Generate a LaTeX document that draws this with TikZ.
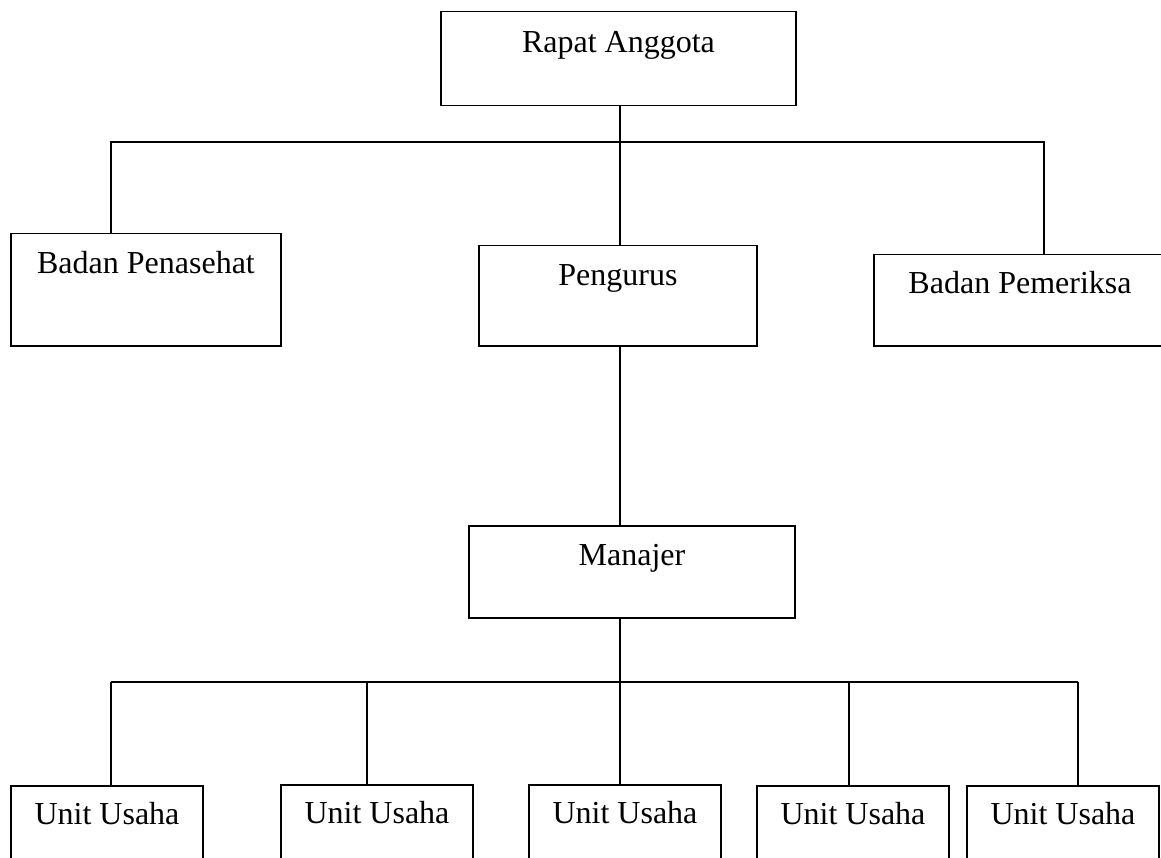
\documentclass[tikz,border=0pt]{standalone}
\usepackage{fontspec}
\setmainfont{Liberation Serif}
\begin{document}
\begin{tikzpicture}[x=1pt,y=-1pt,
  box/.style={draw=black, line width=1.5pt, inner sep=0pt, anchor=north, align=center,
    font=\fontsize{32}{38}\selectfont},
  conn/.style={draw=black, line width=1.5pt}]
\clip (0,0) rectangle (1161,858);
\fill[white] (0,0) rectangle (1161,858);
% boxes
\node[box, minimum width=355pt, text height=41pt, text depth=53pt] (ra) at (618.5,11) {Rapat Anggota};
\node[box, minimum width=270pt, text height=40pt, text depth=72pt] (bpn) at (146,233) {Badan Penasehat};
\node[box, minimum width=278pt, text height=40pt, text depth=60pt] (peng) at (618,245) {Pengurus};
\node[box, minimum width=292pt, text height=39pt, text depth=52pt] (bpm) at (1020,254) {Badan Pemeriksa};
\node[box, minimum width=326pt, text height=40pt, text depth=52pt] (man) at (632,525) {Manajer};
\node[box, minimum width=192pt, text height=39pt, text depth=70pt] (u1) at (107,785) {Unit Usaha};
\node[box, minimum width=192pt, text height=39pt, text depth=70pt] (u2) at (377,784) {Unit Usaha};
\node[box, minimum width=192pt, text height=39pt, text depth=70pt] (u3) at (625,784) {Unit Usaha};
\node[box, minimum width=192pt, text height=39pt, text depth=70pt] (u4) at (853,785) {Unit Usaha};
\node[box, minimum width=192pt, text height=39pt, text depth=70pt] (u5) at (1063,785) {Unit Usaha};
% bus coordinates
\coordinate (tl) at (111,142);
\coordinate (tc) at (620,142);
\coordinate (tr) at (1044,142);
\coordinate (b1) at (111,682);
\coordinate (b2) at (367,682);
\coordinate (b3) at (620,682);
\coordinate (b4) at (849,682);
\coordinate (b5) at (1078,682);
% connectors
\draw[conn] (ra.south -| tc) -- (peng.north -| tc);
\draw[conn] (bpn.north -| tl) -- (tl) -- (tr) -- (bpm.north -| tr);
\draw[conn] (peng.south -| tc) -- (man.north -| tc);
\draw[conn] (man.south -| b3) -- (b3);
\draw[conn] (b1) -- (b5);
\draw[conn] (b1) -- (u1.north -| b1);
\draw[conn] (b2) -- (u2.north -| b2);
\draw[conn] (b3) -- (u3.north -| b3);
\draw[conn] (b4) -- (u4.north -| b4);
\draw[conn] (b5) -- (u5.north -| b5);
\end{tikzpicture}
\end{document}
